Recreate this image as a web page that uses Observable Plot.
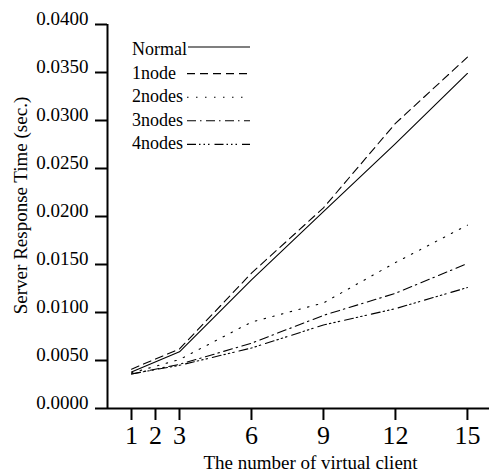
<!DOCTYPE html>
<html>
<head>
<meta charset="utf-8">
<script src="https://cdn.jsdelivr.net/npm/d3@7"></script>
<script src="https://cdn.jsdelivr.net/npm/@observablehq/plot@0.6"></script>
<style>
  html, body { margin: 0; padding: 0; background: #fff; }
  #chart svg { display: block; }
  #chart svg text { font-family: 'Liberation Serif', 'DejaVu Serif', serif; }
</style>
</head>
<body>
<div id="chart"></div>
<script>
const clients = [1, 3, 6, 9, 12, 15];
const normal = [0.0038, 0.0059, 0.0134, 0.0205, 0.0276, 0.0349];
const node1  = [0.0041, 0.0062, 0.0141, 0.0209, 0.0297, 0.0366];
const nodes2 = [0.0037, 0.0051, 0.0090, 0.0110, 0.0152, 0.0191];
const nodes3 = [0.0036, 0.0046, 0.0068, 0.0097, 0.0120, 0.0151];
const nodes4 = [0.0036, 0.0045, 0.0063, 0.0087, 0.0104, 0.0126];

const seriesNames = ["Normal", "1node", "2nodes", "3nodes", "4nodes"];
const seriesValues = [normal, node1, nodes2, nodes3, nodes4];
const dashes = ["none", "8,5", "1.5,7.5", "9,4,1.5,4.5", "9,3,1.5,3,1.5,3,1.5,5"];

const xTicks = [1, 2, 3, 6, 9, 12, 15];
const yTicks = [0, 0.005, 0.01, 0.015, 0.02, 0.025, 0.03, 0.035, 0.04];
const xLabel = "The number of virtual client";
const yLabel = "Server Response Time (sec.)";

const rows = [];
seriesNames.forEach((name, i) => {
  clients.forEach((c, j) => rows.push({series: name, x: c, y: seriesValues[i][j]}));
});

const font = "'Liberation Serif', 'DejaVu Serif', serif";

const lineMarks = seriesNames.map((name, i) =>
  Plot.line(rows.filter(d => d.series === name), {
    x: "x", y: "y", stroke: "black", strokeWidth: 1.1,
    strokeDasharray: dashes[i] === "none" ? undefined : dashes[i]
  })
);

const chart = Plot.plot({
  width: 489,
  height: 473,
  marginLeft: 107,
  marginRight: 0,
  marginTop: 24,
  marginBottom: 65,
  style: {fontFamily: font, background: "white", color: "black"},
  x: {domain: [0, 15.92]},
  y: {domain: [0, 0.04]},
  marks: [
    Plot.axisY({ticks: yTicks, tickSize: 12, strokeWidth: 2, text: null, label: null}),
    Plot.axisY({
      ticks: yTicks, tickFormat: d3.format(".4f"), tickSize: 0, tickPadding: 19,
      fontSize: 19, fontFamily: font, dy: -6, label: null
    }),
    Plot.axisX({
      ticks: xTicks, tickSize: 12, tickPadding: 5, strokeWidth: 2, fontSize: 26, fontFamily: font, label: null
    }),
    Plot.ruleY([0], {strokeWidth: 2}),
    Plot.ruleX([0], {strokeWidth: 2}),
    ...lineMarks,
    Plot.text([xLabel], {text: d => d, frameAnchor: "bottom", dx: 12, dy: 60, fontSize: 19, fontFamily: font, lineAnchor: "bottom"}),
    Plot.text([yLabel], {text: d => d, frameAnchor: "left", textAnchor: "middle", rotate: -90, dx: -87, dy: -11, fontSize: 19, fontFamily: font})
  ]
});

document.getElementById("chart").appendChild(chart);

// Legend (inside the plot area, top-left)
const svg = d3.select(chart);
const legend = svg.append("g").attr("font-family", font).attr("font-size", 18).attr("text-anchor", "start");
const legendX = 132, lineX1 = 187, lineX2 = 250, baseY = 55, step = 23.6;
seriesNames.forEach((name, i) => {
  const by = baseY + i * step;
  legend.append("text").attr("x", legendX).attr("y", by).attr("fill", "black").text(name);
  const ly = by - (i === 0 ? 8 : 5);
  legend.append("line")
    .attr("x1", i === 0 ? 188 : lineX1).attr("x2", lineX2)
    .attr("y1", ly).attr("y2", ly)
    .attr("stroke", "black").attr("stroke-width", 1.1)
    .attr("stroke-dasharray", dashes[i] === "none" ? null : dashes[i]);
});
</script>
</body>
</html>
